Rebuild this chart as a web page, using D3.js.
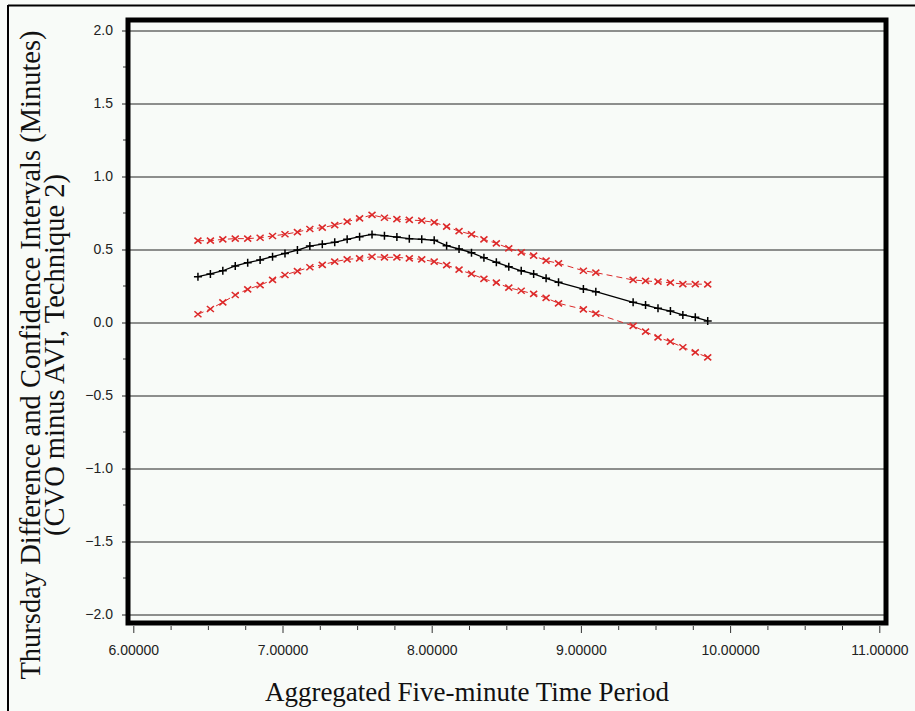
<!DOCTYPE html>
<html>
<head>
<meta charset="utf-8">
<script src="https://cdn.jsdelivr.net/npm/d3@7"></script>
<style>
  html, body { margin: 0; padding: 0; background: #f8fbf8; }
  svg { display: block; }
</style>
</head>
<body>
<svg id="chart" width="915" height="711"></svg>
<script>
// ---- data (hours, 5-minute periods) ----
const timePeriods = [6.4333, 6.5167, 6.6000, 6.6833, 6.7667, 6.8500, 6.9333, 7.0167, 7.1000, 7.1833,
  7.2667, 7.3500, 7.4333, 7.5167, 7.6000, 7.6833, 7.7667, 7.8500, 7.9333, 8.0167,
  8.1000, 8.1833, 8.2667, 8.3500, 8.4333, 8.5167, 8.6000, 8.6833, 8.7667, 8.8500,
  9.0167, 9.1000, 9.3500, 9.4333, 9.5167, 9.6000, 9.6833, 9.7667, 9.8500];
const difference = [0.310, 0.329, 0.351, 0.384, 0.406, 0.425, 0.447, 0.470, 0.493, 0.520,
  0.533, 0.546, 0.566, 0.584, 0.600, 0.591, 0.582, 0.571, 0.566, 0.560,
  0.523, 0.500, 0.475, 0.440, 0.409, 0.379, 0.351, 0.329, 0.299, 0.272,
  0.226, 0.208, 0.135, 0.116, 0.094, 0.075, 0.048, 0.032, 0.007];
const upperCI = [0.557, 0.557, 0.566, 0.571, 0.571, 0.577, 0.589, 0.601, 0.616, 0.637,
  0.646, 0.664, 0.687, 0.710, 0.733, 0.714, 0.705, 0.699, 0.694, 0.683,
  0.653, 0.622, 0.600, 0.566, 0.539, 0.505, 0.477, 0.454, 0.420, 0.402,
  0.351, 0.338, 0.288, 0.281, 0.276, 0.269, 0.260, 0.260, 0.258];
const lowerCI = [0.053, 0.089, 0.135, 0.185, 0.224, 0.253, 0.288, 0.322, 0.349, 0.375,
  0.392, 0.413, 0.429, 0.436, 0.447, 0.443, 0.443, 0.436, 0.429, 0.413,
  0.390, 0.358, 0.329, 0.295, 0.269, 0.235, 0.214, 0.192, 0.165, 0.128,
  0.087, 0.058, -0.027, -0.066, -0.105, -0.135, -0.173, -0.208, -0.242];
const xTicks = [6, 7, 8, 9, 10, 11];
const xMinorTicks = [6.25, 6.5, 6.75, 7.25, 7.5, 7.75, 8.25, 8.5, 8.75, 9.25, 9.5, 9.75, 10.25, 10.5, 10.75];
const yTicks = [-2.0, -1.5, -1.0, -0.5, 0.0, 0.5, 1.0, 1.5, 2.0];
const yMinorTicks = [-1.75, -1.25, -0.75, -0.25, 0.25, 0.75, 1.25, 1.75];
const xTitle = "Aggregated Five-minute Time Period";
const yTitle1 = "Thursday Difference and Confidence Intervals (Minutes)";
const yTitle2 = "(CVO minus AVI, Technique 2)";

// ---- layout ----
const svg = d3.select("#chart");
const bg = "#f8fbf8";
const red = "#dd2a2a";
const frame = { left: 128, top: 20, right: 886, bottom: 623 };

const x = d3.scaleLinear().domain([6, 11]).range([133.3, 879.3]);
const y = d3.scaleLinear().domain([-2, 2]).range([614, 30]);

svg.append("rect").attr("width", 915).attr("height", 711).attr("fill", bg);

// outer page frame (top and left lines)
svg.append("line").attr("x1", 8).attr("x2", 915).attr("y1", 5.5).attr("y2", 5.5)
  .attr("stroke", "#000").attr("stroke-width", 2);
svg.append("line").attr("x1", 8).attr("x2", 8).attr("y1", 5).attr("y2", 711)
  .attr("stroke", "#000").attr("stroke-width", 2);

// y axis with gridlines
const yAxis = svg.append("g")
  .attr("transform", "translate(122,0)")
  .call(d3.axisLeft(y).tickValues(yTicks).tickFormat(d3.format(".1f"))
    .tickSize(-(frame.right - 122)).tickPadding(9));
yAxis.select(".domain").remove();
yAxis.selectAll(".tick line").attr("stroke", "#222").attr("stroke-width", 1).attr("transform", "translate(0,0.5)");
yAxis.selectAll(".tick text")
  .attr("font-family", "'Liberation Sans', Arial, sans-serif")
  .attr("font-size", 14).attr("fill", "#222");

const yMinor = svg.append("g")
  .attr("transform", `translate(${frame.left - 2},0)`)
  .call(d3.axisLeft(y).tickValues(yMinorTicks).tickSize(3).tickFormat(""));
yMinor.select(".domain").remove();
yMinor.selectAll(".tick line").attr("stroke", "#333");

// x axis
const xAxis = svg.append("g")
  .attr("transform", `translate(0,${frame.bottom + 3})`)
  .call(d3.axisBottom(x).tickValues(xTicks).tickFormat(d3.format(".5f"))
    .tickSize(7).tickPadding(12));
xAxis.select(".domain").remove();
xAxis.selectAll(".tick line").attr("stroke", "#333");
xAxis.selectAll(".tick text")
  .attr("font-family", "'Liberation Sans', Arial, sans-serif")
  .attr("font-size", 14).attr("fill", "#222");

const xMinor = svg.append("g")
  .attr("transform", `translate(0,${frame.bottom + 3})`)
  .call(d3.axisBottom(x).tickValues(xMinorTicks).tickSize(4).tickFormat(""));
xMinor.select(".domain").remove();
xMinor.selectAll(".tick line").attr("stroke", "#333");

// plot frame
svg.append("rect")
  .attr("x", frame.left).attr("y", frame.top)
  .attr("width", frame.right - frame.left).attr("height", frame.bottom - frame.top)
  .attr("fill", "none").attr("stroke", "#000").attr("stroke-width", 5);

// series
const pts = (vals) => timePeriods.map((t, i) => [t, vals[i]]);
const line = d3.line().x(d => x(d[0])).y(d => y(d[1]));

function drawCI(vals) {
  svg.append("path").datum(pts(vals))
    .attr("d", line).attr("fill", "none")
    .attr("stroke", red).attr("stroke-width", 1).attr("stroke-dasharray", "6,4");
  svg.append("g").selectAll("path").data(pts(vals)).join("path")
    .attr("transform", d => `translate(${x(d[0])},${y(d[1])})`)
    .attr("d", "M-3.5,-3L3.5,3M-3.5,3L3.5,-3")
    .attr("stroke", red).attr("stroke-width", 1.6).attr("fill", "none");
}
drawCI(upperCI);
drawCI(lowerCI);

svg.append("path").datum(pts(difference))
  .attr("d", line).attr("fill", "none")
  .attr("stroke", "#000").attr("stroke-width", 1.3);
svg.append("g").selectAll("path").data(pts(difference)).join("path")
  .attr("transform", d => `translate(${x(d[0])},${y(d[1])})`)
  .attr("d", "M-4,0L4,0M0,-4L0,4")
  .attr("stroke", "#000").attr("stroke-width", 1.5).attr("fill", "none");

// titles
svg.append("text")
  .attr("x", 467).attr("y", 701)
  .attr("text-anchor", "middle")
  .attr("font-family", "'Liberation Serif', 'Times New Roman', serif")
  .attr("font-size", 27).attr("fill", "#111")
  .text(xTitle);

const yt = svg.append("g").attr("transform", "translate(0,355) rotate(-90)");
yt.append("text").attr("x", 0).attr("y", 40)
  .attr("text-anchor", "middle")
  .attr("font-family", "'Liberation Serif', 'Times New Roman', serif")
  .attr("font-size", 28.5).attr("fill", "#111")
  .text(yTitle1);
yt.append("text").attr("x", 0).attr("y", 64)
  .attr("text-anchor", "middle")
  .attr("font-family", "'Liberation Serif', 'Times New Roman', serif")
  .attr("font-size", 28.5).attr("fill", "#111")
  .text(yTitle2);
</script>
</body>
</html>
